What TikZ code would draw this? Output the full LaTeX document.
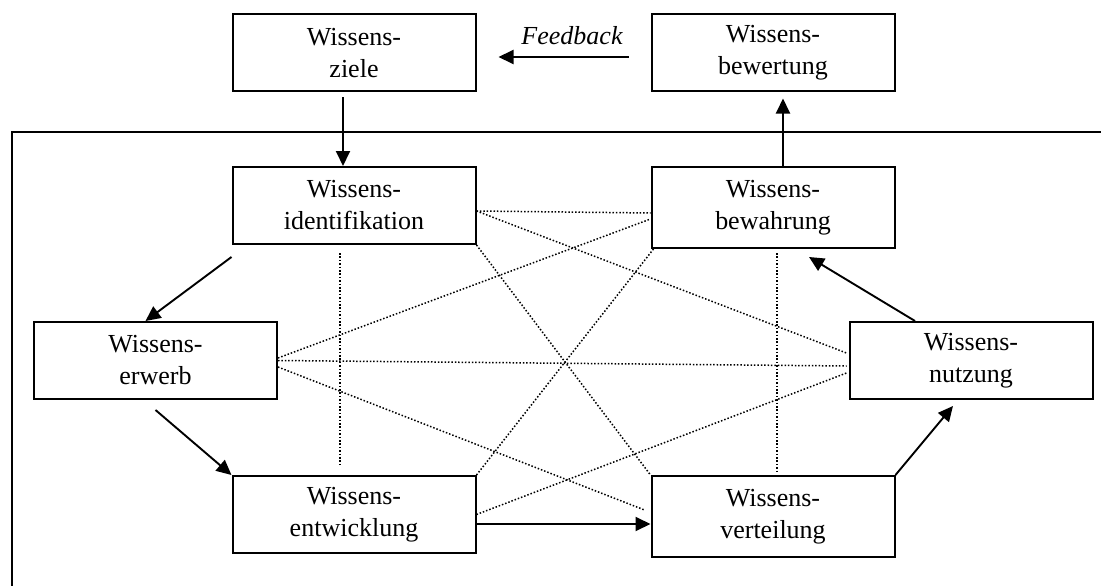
\documentclass[tikz,border=0pt]{standalone}
\usepackage{fontspec}
\setmainfont{Liberation Serif}
\usetikzlibrary{arrows.meta}

\tikzset{
  phase/.style={draw, line width=2pt, minimum width=243pt, minimum height=77pt,
    inner sep=0pt, align=center, font=\fontsize{26}{32}\selectfont},
  flow/.style={line width=1.9pt, -{Triangle[length=15pt,width=14pt]}},
  link/.style={line width=1.5pt, dash pattern=on 1.5pt off 1.9pt},
  frameline/.style={line width=2pt}
}

\begin{document}
\begin{tikzpicture}[x=1pt,y=-1pt]
  \useasboundingbox (0,0) rectangle (1101,586);
  \fill[white] (0,0) rectangle (1101,586);

  % outer frame (open towards right and bottom)
  \draw[frameline] (1105,132) -- (12,132) -- (12,590);

  % boxes
  \node[phase] (ziele)  at (354,53)    {Wissens-\\ziele};
  \node[phase] (bewert) at (773,53)    {Wissens-\\bewertung};
  \node[phase] (ident)  at (354,205.5) {Wissens-\\identifikation};
  \node[phase, minimum height=81pt] (bewahr) at (773,207.5) {Wissens-\\bewahrung};
  \node[phase] (erwerb) at (155.5,360.5) {Wissens-\\erwerb};
  \node[phase] (nutz)   at (971,360.5) {Wissens-\\nutzung};
  \node[phase] (entw)   at (354,514.5) {Wissens-\\entwicklung};
  \node[phase, minimum height=81pt] (vert) at (773,516.5) {Wissens-\\verteilung};

  % feedback loop at the top
  \draw[flow, shorten <=22pt, shorten >=22pt] ([yshift=-4pt]bewert.west) -- ([yshift=-4pt]ziele.east);
  \node[anchor=base, font=\fontsize{26}{32}\selectfont\itshape] (fb) at (572,45) {Feedback};
  \draw[flow, shorten <=5pt] ([xshift=-11pt]ziele.south) -- ([xshift=-11pt]ident.north);
  \draw[flow, shorten >=6pt] ([xshift=10pt]bewahr.north) -- ([xshift=10pt]bewert.south);

  % core cycle
  \draw[flow] ([yshift=-12pt]ident.south west) -- ([xshift=-10pt]erwerb.north);
  \draw[flow] ([yshift=-10pt]erwerb.south) -- (entw.north west);
  \draw[flow] ([yshift=-9.5pt]entw.east) -- ([yshift=-7.5pt]vert.west);
  \draw[flow] (vert.north east) -- ([xshift=-18pt,yshift=-6pt]nutz.south);
  \draw[flow] ([xshift=-56pt]nutz.north) -- ([xshift=36pt,yshift=-8pt]bewahr.south);

  % cross links between the building blocks
  \draw[link] ([yshift=-5.5pt]ident.east) -- ([yshift=-5.5pt]bewahr.west);
  \draw[link] ([yshift=-5.5pt]ident.east) -- ([xshift=-2pt,yshift=7.5pt]nutz.west);
  \draw[link] (ident.south east) -- (vert.north west);
  \draw[link, shorten <=8pt, shorten >=11pt] ([xshift=-14pt]ident.south) -- ([xshift=-14pt]entw.north);
  \draw[link, shorten <=4pt, shorten >=2pt] ([xshift=4pt]bewahr.south) -- ([xshift=4pt]vert.north);
  \draw[link] ([yshift=2.5pt]erwerb.east) -- ([yshift=-11.5pt]bewahr.west);
  \draw[link] (erwerb.east) -- ([xshift=-2pt,yshift=-5.5pt]nutz.west);
  \draw[link] ([yshift=-6.5pt]erwerb.east) -- ([xshift=-6pt,yshift=6.5pt]vert.west);
  \draw[link] (entw.north east) -- ([xshift=3pt]bewahr.south west);
  \draw[link] (entw.east) -- ([xshift=-2pt,yshift=-12.5pt]nutz.west);
\end{tikzpicture}
\end{document}
